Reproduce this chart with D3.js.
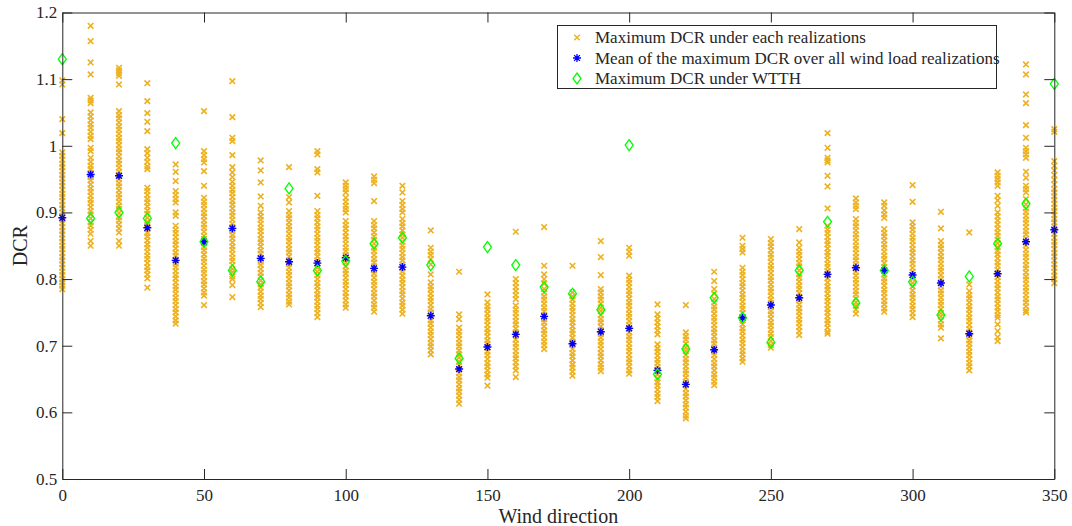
<!DOCTYPE html>
<html>
<head>
<meta charset="utf-8">
<script src="https://cdn.jsdelivr.net/npm/d3@7"></script>
<style>
  html, body { margin: 0; padding: 0; background: #fff; }
  svg { display: block; }
  text { font-family: "Liberation Serif", "Times New Roman", serif; fill: #262626; }
</style>
</head>
<body>
<svg id="chart" width="1072" height="526"></svg>
<script>
// ---------------- DATA ----------------
const directions = [0,10,20,30,40,50,60,70,80,90,100,110,120,130,140,150,160,170,180,190,200,210,220,230,240,250,260,270,280,290,300,310,320,330,340,350];

const meanDCR = [0.892,0.957,0.955,0.877,0.828,0.856,0.876,0.831,0.826,0.824,0.832,0.816,0.818,0.745,0.665,0.698,0.717,0.744,0.703,0.721,0.726,0.663,0.642,0.694,0.742,0.761,0.772,0.807,0.817,0.813,0.806,0.794,0.718,0.808,0.856,0.874];

const wtthDCR = [1.130,0.891,0.900,0.891,1.004,0.856,0.813,0.796,0.936,0.813,0.827,0.853,0.862,0.821,0.681,0.848,0.821,0.788,0.778,0.754,1.001,0.657,0.695,0.772,0.742,0.705,0.813,0.886,0.764,0.813,0.796,0.746,0.804,0.853,0.913,1.093];

const realizationDCR = [
 // 0
 [1.098,1.092,1.040,1.019,0.990,0.985,0.979,0.973,0.968,0.962,0.956,0.951,0.945,0.940,0.934,0.928,0.923,0.917,0.911,0.906,0.900,0.895,0.889,0.884,0.878,0.872,0.867,0.861,0.856,0.850,0.845,0.839,0.833,0.828,0.822,0.817,0.811,0.806,0.800,0.795,0.790,0.785],
 // 10
 [1.180,1.157,1.125,1.107,1.072,1.068,1.064,1.050,1.044,1.038,1.032,1.027,1.021,1.015,1.010,0.997,0.992,0.982,0.976,0.970,0.965,0.959,0.953,0.948,0.942,0.936,0.931,0.925,0.919,0.914,0.908,0.902,0.897,0.891,0.885,0.880,0.874,0.868,0.857,0.850],
 // 20
 [1.117,1.113,1.109,1.105,1.092,1.052,1.046,1.041,1.035,1.029,1.024,1.018,1.012,1.007,1.001,0.995,0.990,0.984,0.978,0.973,0.967,0.961,0.956,0.950,0.944,0.939,0.933,0.927,0.922,0.916,0.910,0.905,0.899,0.893,0.888,0.882,0.876,0.870,0.857,0.850],
 // 30
 [1.094,1.067,1.049,1.036,1.022,0.995,0.989,0.982,0.976,0.969,0.965,0.937,0.932,0.926,0.920,0.915,0.909,0.903,0.898,0.892,0.886,0.881,0.875,0.869,0.864,0.858,0.852,0.847,0.841,0.835,0.830,0.824,0.818,0.813,0.807,0.801,0.787],
 // 40
 [0.972,0.961,0.947,0.932,0.926,0.920,0.915,0.900,0.895,0.880,0.874,0.869,0.863,0.857,0.852,0.846,0.840,0.835,0.829,0.823,0.818,0.812,0.806,0.801,0.795,0.789,0.784,0.778,0.772,0.767,0.761,0.755,0.750,0.744,0.738,0.733],
 // 50
 [1.052,0.992,0.986,0.980,0.975,0.962,0.940,0.922,0.916,0.911,0.905,0.899,0.894,0.888,0.882,0.877,0.871,0.865,0.860,0.854,0.848,0.843,0.837,0.831,0.826,0.820,0.814,0.809,0.803,0.797,0.792,0.786,0.780,0.775,0.761],
 // 60
 [1.097,1.043,1.012,1.007,0.986,0.968,0.960,0.953,0.946,0.940,0.934,0.929,0.923,0.917,0.912,0.906,0.900,0.895,0.889,0.883,0.878,0.872,0.866,0.861,0.855,0.849,0.844,0.838,0.832,0.827,0.821,0.815,0.810,0.804,0.800,0.791,0.773],
 // 70
 [0.978,0.963,0.945,0.924,0.910,0.900,0.894,0.889,0.883,0.877,0.872,0.866,0.860,0.855,0.849,0.843,0.838,0.832,0.826,0.821,0.815,0.809,0.804,0.798,0.792,0.787,0.781,0.775,0.770,0.764,0.758],
 // 80
 [0.968,0.923,0.915,0.902,0.896,0.891,0.885,0.879,0.874,0.868,0.862,0.857,0.851,0.845,0.840,0.834,0.828,0.823,0.817,0.811,0.806,0.800,0.794,0.789,0.783,0.777,0.772,0.766,0.762],
 // 90
 [0.992,0.987,0.965,0.960,0.925,0.902,0.896,0.891,0.885,0.879,0.874,0.868,0.862,0.857,0.851,0.845,0.840,0.834,0.828,0.823,0.817,0.811,0.806,0.800,0.794,0.789,0.783,0.777,0.772,0.766,0.760,0.755,0.749,0.743],
 // 100
 [0.945,0.940,0.935,0.930,0.922,0.916,0.910,0.905,0.900,0.887,0.881,0.876,0.870,0.864,0.859,0.853,0.847,0.842,0.836,0.830,0.825,0.819,0.813,0.808,0.802,0.796,0.791,0.785,0.779,0.774,0.768,0.762,0.757],
 // 110
 [0.954,0.949,0.944,0.917,0.887,0.881,0.876,0.870,0.864,0.859,0.853,0.847,0.842,0.836,0.830,0.825,0.819,0.813,0.808,0.802,0.796,0.791,0.785,0.779,0.774,0.768,0.762,0.757,0.751],
 // 120
 [0.940,0.930,0.917,0.911,0.905,0.900,0.890,0.884,0.879,0.873,0.867,0.862,0.856,0.850,0.845,0.839,0.833,0.828,0.822,0.816,0.811,0.805,0.799,0.794,0.788,0.782,0.777,0.771,0.765,0.760,0.754,0.748],
 // 130
 [0.873,0.847,0.841,0.836,0.830,0.822,0.807,0.795,0.789,0.784,0.778,0.772,0.767,0.761,0.755,0.750,0.744,0.738,0.733,0.727,0.721,0.716,0.710,0.704,0.699,0.693,0.687],
 // 140
 [0.811,0.747,0.740,0.727,0.721,0.716,0.710,0.704,0.699,0.693,0.687,0.682,0.676,0.670,0.665,0.659,0.653,0.648,0.642,0.636,0.631,0.625,0.619,0.613],
 // 150
 [0.777,0.765,0.759,0.754,0.748,0.742,0.737,0.731,0.725,0.720,0.714,0.708,0.703,0.697,0.691,0.686,0.680,0.674,0.669,0.663,0.657,0.652,0.640],
 // 160
 [0.871,0.800,0.794,0.788,0.782,0.776,0.770,0.760,0.754,0.749,0.743,0.737,0.732,0.726,0.720,0.715,0.709,0.703,0.698,0.692,0.686,0.681,0.675,0.669,0.663,0.653],
 // 170
 [0.878,0.820,0.807,0.800,0.793,0.785,0.780,0.774,0.769,0.763,0.757,0.752,0.746,0.740,0.735,0.729,0.723,0.718,0.712,0.706,0.701,0.695],
 // 180
 [0.820,0.780,0.774,0.769,0.763,0.757,0.752,0.746,0.740,0.735,0.729,0.723,0.718,0.712,0.706,0.701,0.695,0.689,0.684,0.678,0.672,0.667,0.661,0.655],
 // 190
 [0.857,0.833,0.806,0.785,0.780,0.774,0.769,0.763,0.757,0.752,0.746,0.740,0.735,0.729,0.723,0.718,0.712,0.706,0.701,0.695,0.689,0.684,0.678,0.672,0.667,0.662],
 // 200
 [0.847,0.841,0.835,0.805,0.799,0.794,0.788,0.782,0.777,0.771,0.765,0.760,0.754,0.748,0.743,0.737,0.731,0.726,0.720,0.714,0.709,0.703,0.697,0.692,0.686,0.680,0.675,0.669,0.663,0.658],
 // 210
 [0.762,0.747,0.741,0.735,0.729,0.723,0.717,0.702,0.696,0.691,0.685,0.679,0.674,0.668,0.662,0.657,0.651,0.645,0.640,0.634,0.628,0.623,0.617],
 // 220
 [0.761,0.720,0.714,0.709,0.703,0.697,0.692,0.686,0.680,0.675,0.669,0.663,0.658,0.652,0.646,0.641,0.635,0.629,0.624,0.618,0.612,0.607,0.601,0.595,0.591],
 // 230
 [0.811,0.797,0.785,0.778,0.770,0.765,0.759,0.754,0.748,0.742,0.737,0.731,0.725,0.720,0.714,0.708,0.703,0.697,0.691,0.686,0.680,0.674,0.669,0.663,0.657,0.652,0.646,0.641],
 // 240
 [0.862,0.850,0.845,0.840,0.817,0.811,0.806,0.800,0.794,0.789,0.783,0.777,0.772,0.766,0.760,0.755,0.749,0.743,0.738,0.732,0.726,0.721,0.715,0.709,0.704,0.698,0.692,0.687,0.681,0.676],
 // 250
 [0.860,0.854,0.849,0.843,0.837,0.832,0.826,0.820,0.815,0.809,0.803,0.798,0.792,0.786,0.781,0.775,0.769,0.764,0.758,0.752,0.747,0.741,0.735,0.730,0.724,0.718,0.713,0.707,0.701,0.697],
 // 260
 [0.875,0.855,0.847,0.841,0.836,0.830,0.824,0.819,0.813,0.807,0.802,0.796,0.790,0.785,0.779,0.773,0.768,0.762,0.756,0.751,0.745,0.739,0.734,0.728,0.722,0.716],
 // 270
 [1.019,0.997,0.982,0.978,0.975,0.955,0.939,0.906,0.880,0.874,0.869,0.863,0.857,0.852,0.846,0.840,0.835,0.829,0.823,0.818,0.812,0.806,0.801,0.795,0.789,0.784,0.778,0.772,0.767,0.761,0.755,0.750,0.744,0.738,0.733,0.727,0.721,0.718],
 // 280
 [0.921,0.915,0.910,0.905,0.890,0.884,0.879,0.873,0.867,0.862,0.856,0.850,0.845,0.839,0.833,0.828,0.822,0.816,0.811,0.805,0.799,0.794,0.788,0.782,0.777,0.771,0.765,0.760,0.754,0.748],
 // 290
 [0.915,0.910,0.903,0.897,0.892,0.875,0.869,0.864,0.858,0.852,0.847,0.841,0.835,0.830,0.824,0.818,0.813,0.807,0.801,0.796,0.790,0.784,0.779,0.773,0.767,0.762,0.756,0.751],
 // 300
 [0.941,0.916,0.885,0.879,0.874,0.868,0.862,0.857,0.851,0.845,0.840,0.834,0.828,0.823,0.817,0.811,0.806,0.800,0.794,0.789,0.783,0.777,0.772,0.766,0.760,0.755,0.749,0.743],
 // 310
 [0.901,0.876,0.857,0.851,0.846,0.840,0.834,0.829,0.823,0.817,0.812,0.806,0.800,0.795,0.789,0.783,0.778,0.772,0.766,0.761,0.755,0.749,0.744,0.738,0.732,0.727,0.711],
 // 320
 [0.870,0.792,0.782,0.776,0.771,0.765,0.759,0.754,0.748,0.742,0.737,0.731,0.725,0.720,0.714,0.708,0.703,0.697,0.691,0.686,0.680,0.674,0.669,0.663],
 // 330
 [0.960,0.955,0.950,0.945,0.940,0.925,0.918,0.910,0.900,0.894,0.888,0.882,0.876,0.870,0.865,0.859,0.854,0.848,0.842,0.837,0.831,0.825,0.820,0.814,0.808,0.803,0.797,0.791,0.786,0.780,0.774,0.769,0.763,0.757,0.752,0.746,0.742,0.732,0.722,0.713,0.707],
 // 340
 [1.122,1.107,1.077,1.064,1.031,1.012,0.997,0.992,0.987,0.982,0.961,0.952,0.940,0.935,0.930,0.920,0.912,0.906,0.901,0.895,0.889,0.884,0.878,0.872,0.867,0.861,0.855,0.850,0.844,0.838,0.833,0.827,0.821,0.816,0.810,0.804,0.799,0.793,0.787,0.782,0.776,0.770,0.765,0.759,0.753,0.750],
 // 350
 [1.025,1.021,0.977,0.970,0.963,0.956,0.949,0.942,0.935,0.930,0.924,0.919,0.913,0.907,0.902,0.896,0.890,0.885,0.879,0.873,0.868,0.862,0.856,0.851,0.845,0.839,0.834,0.828,0.822,0.817,0.811,0.805,0.800,0.794]
];

const xTicks = [0,50,100,150,200,250,300,350];
const yTicks = [0.5,0.6,0.7,0.8,0.9,1.0,1.1,1.2];
const legendLabels = [
  "Maximum DCR under each realizations",
  "Mean of the maximum DCR over all wind load realizations",
  "Maximum DCR under WTTH"
];
const xLabel = "Wind direction";
const yLabel = "DCR";

// ---------------- CHART ----------------
const svg = d3.select("#chart");
const L = 62.3, R = 1054.3, T = 12.5, B = 479;
const x = d3.scaleLinear().domain([0, 350]).range([L, R]);
const y = d3.scaleLinear().domain([0.5, 1.2]).range([B, T]);

const ORANGE = "#EDB120", BLUE = "#0000FF", GREEN = "#00FF00", AXIS = "#262626";

const crossPath = "M-2.8,-2.8L2.8,2.8M-2.8,2.8L2.8,-2.8";
const starPath = "M-4,0H4M0,-4V4M-2.9,-2.9L2.9,2.9M-2.9,2.9L2.9,-2.9";
const diamondPath = "M0,-5.5L4,0L0,5.5L-4,0Z";

svg.append("rect").attr("x", L).attr("y", T).attr("width", R - L).attr("height", B - T).attr("fill", "#fff");

// orange realizations
const pts = [];
directions.forEach((d, i) => realizationDCR[i].forEach(v => pts.push({d, v})));
svg.append("g").selectAll("path").data(pts).join("path")
  .attr("d", crossPath)
  .attr("transform", p => `translate(${x(p.d)},${y(p.v)})`)
  .attr("stroke", ORANGE).attr("stroke-width", 1.6).attr("fill", "none");

// blue means
svg.append("g").selectAll("path").data(directions).join("path")
  .attr("d", starPath)
  .attr("transform", (d, i) => `translate(${x(d)},${y(meanDCR[i])})`)
  .attr("stroke", BLUE).attr("stroke-width", 1.4).attr("fill", "none");

// green WTTH
svg.append("g").selectAll("path").data(directions).join("path")
  .attr("d", diamondPath)
  .attr("transform", (d, i) => `translate(${x(d)},${y(wtthDCR[i])})`)
  .attr("stroke", GREEN).attr("stroke-width", 1.3).attr("fill", "none");

// axes
function styleAxis(g) {
  g.select(".domain").attr("stroke", AXIS).attr("stroke-width", 1);
  g.selectAll(".tick line").attr("stroke", AXIS).attr("stroke-width", 1);
  g.selectAll(".tick text").attr("fill", AXIS).style("font-size", "17px")
    .style("font-family", '"Liberation Serif", serif');
}
const fmtY = v => (v === 1 ? "1" : d3.format(".1f")(v));

svg.append("g").attr("transform", `translate(0,${B})`)
  .call(d3.axisBottom(x).tickValues(xTicks).tickSizeInner(-10).tickSizeOuter(0).tickPadding(10).tickFormat(d3.format("d")))
  .call(styleAxis);
svg.append("g").attr("transform", `translate(${L},0)`)
  .call(d3.axisLeft(y).tickValues(yTicks).tickSizeInner(-10).tickSizeOuter(0).tickPadding(5).tickFormat(fmtY))
  .call(styleAxis);
svg.append("g").attr("transform", `translate(0,${T})`)
  .call(d3.axisTop(x).tickValues(xTicks).tickSizeInner(-10).tickSizeOuter(0).tickFormat(""))
  .call(styleAxis);
svg.append("g").attr("transform", `translate(${R},0)`)
  .call(d3.axisRight(y).tickValues(yTicks).tickSizeInner(-10).tickSizeOuter(0).tickFormat(""))
  .call(styleAxis);
svg.selectAll(".tick text").attr("font-family", null);

// axis labels
svg.append("text").attr("x", (L + R) / 2).attr("y", 523).attr("text-anchor", "middle")
  .style("font-size", "20px").text(xLabel);
svg.append("text").attr("transform", `translate(27,${(T + B) / 2}) rotate(-90)`).attr("text-anchor", "middle")
  .style("font-size", "20px").text(yLabel);

// legend
const lg = svg.append("g");
lg.append("rect").attr("x", 557.5).attr("y", 25.5).attr("width", 439).attr("height", 63)
  .attr("fill", "#fff").attr("stroke", AXIS).attr("stroke-width", 1);
const legendPaths = [crossPath, starPath, diamondPath];
const legendColors = [ORANGE, BLUE, GREEN];
const rowY = [37.5, 58, 78.5];
legendLabels.forEach((t, i) => {
  lg.append("path").attr("d", legendPaths[i]).attr("transform", `translate(577,${rowY[i]})`)
    .attr("stroke", legendColors[i]).attr("stroke-width", 1.3).attr("fill", "none");
  lg.append("text").attr("x", 595).attr("y", rowY[i]).attr("dy", "0.34em")
    .style("font-size", "17px").text(t);
});
</script>
</body>
</html>
